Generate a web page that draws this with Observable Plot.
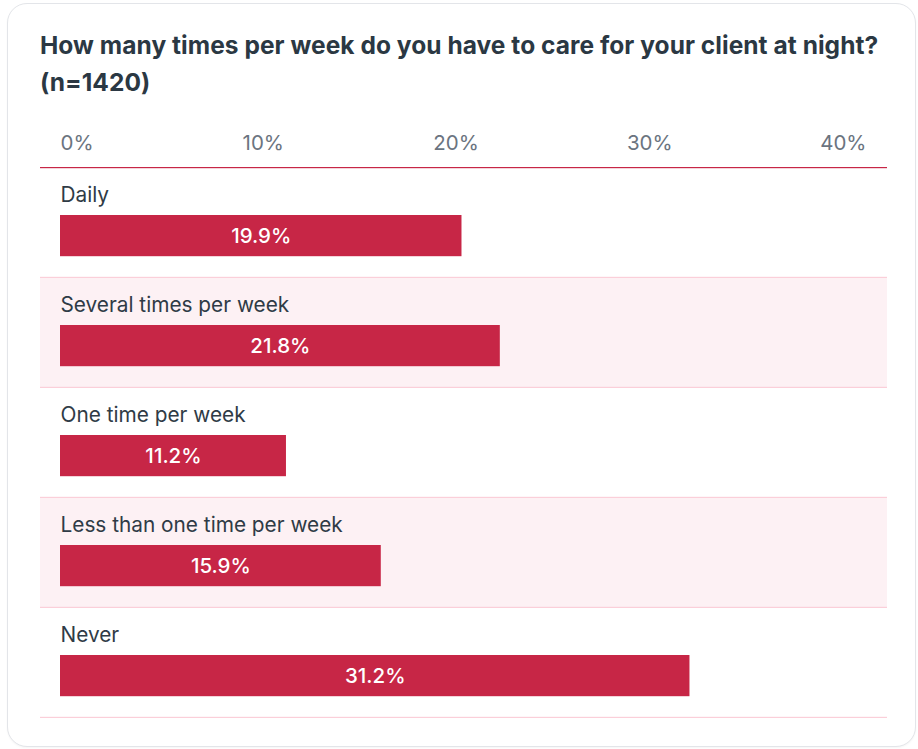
<!DOCTYPE html>
<html>
<head>
<meta charset="utf-8">
<script src="https://cdn.jsdelivr.net/npm/d3@7"></script>
<script src="https://cdn.jsdelivr.net/npm/@observablehq/plot@0.6"></script>
<style>
  html, body { margin: 0; padding: 0; background: #ffffff; }
  body { width: 918px; height: 749px; position: relative; overflow: hidden; font-family: Inter, "Noto Sans", sans-serif; }
  #card { position: absolute; left: 7px; top: 3px; width: 907px; height: 742px; border: 1px solid #e3e5e9; border-radius: 20px; box-shadow: 0 1px 2px rgba(0,0,0,0.04); background: #fff; }
  #title { position: absolute; left: 40px; top: 27px; width: 855px; font-size: 24.5px; font-weight: 700; line-height: 37px; color: #2b3843; letter-spacing: 0.05px; }
  #chart { position: absolute; left: 0; top: 100px; }
</style>
</head>
<body>
<div id="card"></div>
<div id="title">How many times per week do you have to care for your client at night? (n=1420)</div>
<div id="chart"></div>
<script>
const categories = ["Daily", "Several times per week", "One time per week", "Less than one time per week", "Never"];
const values = [19.9, 21.8, 11.2, 15.9, 31.2];
const tickValues = [0, 10, 20, 30, 40];
const tickLabels = ["0%", "10%", "20%", "30%", "40%"];

const rows = categories.map((c, i) => ({cat: c, value: values[i], idx: i}));
const ticks = tickValues.map((v, i) => ({v, label: tickLabels[i], idx: i}));

const W = 918, H = 630, mTop = 68, mBottom = 8, mLeft = 60, mRight = 51;
const band = (H - mTop - mBottom) / categories.length;
const barColor = "#c72646";
const ext = -20;
const tickStyle = {x: "v", text: "label", frameAnchor: "top", dy: -33, fill: "#6b7480", fontSize: 20.5};

const chart = Plot.plot({
  width: W,
  height: H,
  marginTop: mTop,
  marginBottom: mBottom,
  marginLeft: mLeft,
  marginRight: mRight,
  style: {fontFamily: "Inter, 'Noto Sans', sans-serif", fontSize: "20px", background: "transparent", overflow: "visible"},
  x: {domain: [tickValues[0], tickValues[tickValues.length - 1]], axis: null},
  y: {domain: categories, axis: null, paddingInner: 0, paddingOuter: 0, align: 0},
  marks: [
    // row backgrounds
    Plot.cell(rows, {y: "cat", fill: d => d.idx % 2 ? "#fdf1f4" : "#ffffff", insetLeft: ext, insetRight: ext}),
    // row separators
    Plot.cell(rows, {y: "cat", fill: "#fbcfd9", insetTop: band - 2, insetLeft: ext, insetRight: ext}),
    // top red axis line
    Plot.cell(rows.filter(d => d.idx === 0), {y: "cat", fill: barColor, insetTop: -1, insetBottom: band - 1, insetLeft: ext, insetRight: ext}),
    // bars
    Plot.barX(rows, {y: "cat", x: "value", fill: barColor, insetTop: 47, insetBottom: band - 89}),
    // category labels
    Plot.text(rows, {y: "cat", text: "cat", frameAnchor: "left", textAnchor: "start", dy: -28, fill: "#2f3b46", fontSize: 20.8}),
    // value labels
    Plot.text(rows, {y: "cat", x: d => d.value / 2, text: d => d.value.toFixed(1) + "%", fill: "#ffffff", fontWeight: 500, fontSize: 20.5, dy: 13}),
    // tick labels (spread like a justified row)
    Plot.text(ticks.filter(d => d.idx === 0), {...tickStyle, textAnchor: "start"}),
    Plot.text(ticks.filter(d => d.idx === 1), {...tickStyle, textAnchor: "middle", dx: 1}),
    Plot.text(ticks.filter(d => d.idx === 2), {...tickStyle, textAnchor: "middle", dx: -8}),
    Plot.text(ticks.filter(d => d.idx === 3), {...tickStyle, textAnchor: "middle", dx: -16}),
    Plot.text(ticks.filter(d => d.idx === 4), {...tickStyle, textAnchor: "end", dx: -1})
  ]
});
document.getElementById("chart").appendChild(chart);
</script>
</body>
</html>
